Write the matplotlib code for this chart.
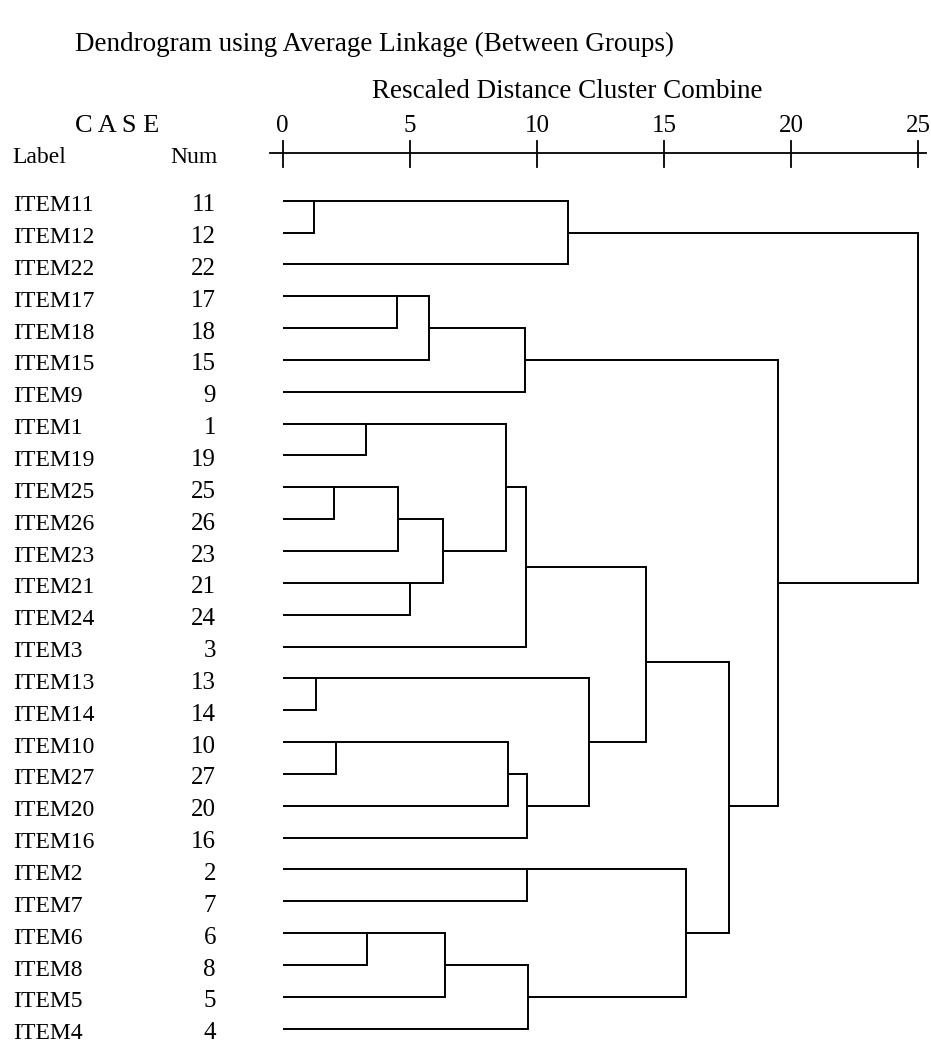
import math
import matplotlib
matplotlib.use("Agg")
import matplotlib.pyplot as plt

plt.rcParams['font.family'] = ['Liberation Serif', 'DejaVu Serif']

# Data: case order as printed, and the agglomeration steps
labels = ['ITEM11', 'ITEM12', 'ITEM22', 'ITEM17', 'ITEM18', 'ITEM15', 'ITEM9',
          'ITEM1', 'ITEM19', 'ITEM25', 'ITEM26', 'ITEM23', 'ITEM21', 'ITEM24',
          'ITEM3', 'ITEM13', 'ITEM14', 'ITEM10', 'ITEM27', 'ITEM20', 'ITEM16',
          'ITEM2', 'ITEM7', 'ITEM6', 'ITEM8', 'ITEM5', 'ITEM4']
nums = [11, 12, 22, 17, 18, 15, 9, 1, 19, 25, 26, 23, 21, 24, 3,
        13, 14, 10, 27, 20, 16, 2, 7, 6, 8, 5, 4]

# (child, child, rescaled distance); leaves are case numbers,
# 100 + k refers to the cluster formed at step k
merges = [
    (11, 12, 1.24), (13, 14, 1.31), (25, 26, 2.03), (10, 27, 2.08),
    (1, 19, 3.27), (6, 8, 3.33), (17, 18, 4.50), (102, 23, 4.54),
    (21, 24, 5.02), (106, 15, 5.76), (107, 108, 6.29), (105, 5, 6.38),
    (104, 110, 8.80), (103, 20, 8.85), (109, 9, 9.53), (112, 3, 9.57),
    (113, 16, 9.61), (2, 7, 9.61), (111, 4, 9.64), (100, 22, 11.24),
    (101, 116, 12.06), (115, 120, 14.28), (117, 118, 15.87),
    (121, 122, 17.56), (114, 123, 19.50), (119, 124, 25.00),
]
ticks = [0, 5, 10, 15, 20, 25]

# figure laid out in pixels: 25.42 px per distance unit, 31.85 px per row
W, H = 931, 1044
px_x, px_y = 25.42, 31.846
x0_px, y0_px = 282.7, 200.7

fig = plt.figure(figsize=(W / 100, H / 100), dpi=100)
ax = fig.add_axes([0, 0, 1, 1])
ax.axis('off')
ax.set_xlim(-x0_px / px_x, (W - x0_px) / px_x)
ax.set_ylim((H - y0_px) / px_y, -y0_px / px_y)


def row(ypx):
    return (ypx - y0_px) / px_y


def col(xpx):
    return (xpx - x0_px) / px_x


lw = 1.4
pos = {n: (i, 0.0) for i, n in enumerate(nums)}
for k, (a, b, h) in enumerate(merges):
    ya, ha = pos[a]
    yb, hb = pos[b]
    ax.plot([ha, h], [ya, ya], color='black', lw=lw, solid_capstyle='butt')
    ax.plot([hb, h], [yb, yb], color='black', lw=lw, solid_capstyle='butt')
    ax.plot([h, h], [ya, yb], color='black', lw=lw, solid_capstyle='projecting')
    # SPSS style: adjacent rows join on the upper one, else the (half-)row midpoint
    if abs(ya - yb) == 1:
        ym = min(ya, yb)
    else:
        ym = math.ceil(ya + yb) / 2
    pos[100 + k] = (ym, h)

# case labels
for i, (lab, n) in enumerate(zip(labels, nums)):
    ax.text(col(13), i + 0.33, lab, fontsize=17, ha='left', va='baseline')
    ax.text(col(216), i + 0.33, str(n), fontsize=18, ha='right', va='baseline')

# scale at the top
ax_y = row(153.3)
ax.plot([col(270), col(926)], [ax_y, ax_y], color='black', lw=1.3)
for t in ticks:
    ax.plot([t, t], [row(140.7), row(166.7)], color='black', lw=1.3)
    ax.text(t, row(132), str(t), fontsize=18, ha='center', va='baseline')

ax.text(col(75), row(132), 'C A S E', fontsize=19, ha='left', va='baseline')
ax.text(col(12), row(163), 'Label', fontsize=17, ha='left', va='baseline')
ax.text(col(218), row(163), 'Num', fontsize=17, ha='right', va='baseline')

ax.text(col(75), row(51), 'Dendrogram using Average Linkage (Between Groups)',
        fontsize=19.5, ha='left', va='baseline')
ax.text(col(372), row(98), 'Rescaled Distance Cluster Combine',
        fontsize=19.5, ha='left', va='baseline')

fig.savefig('out.png', dpi=100, facecolor='white')
